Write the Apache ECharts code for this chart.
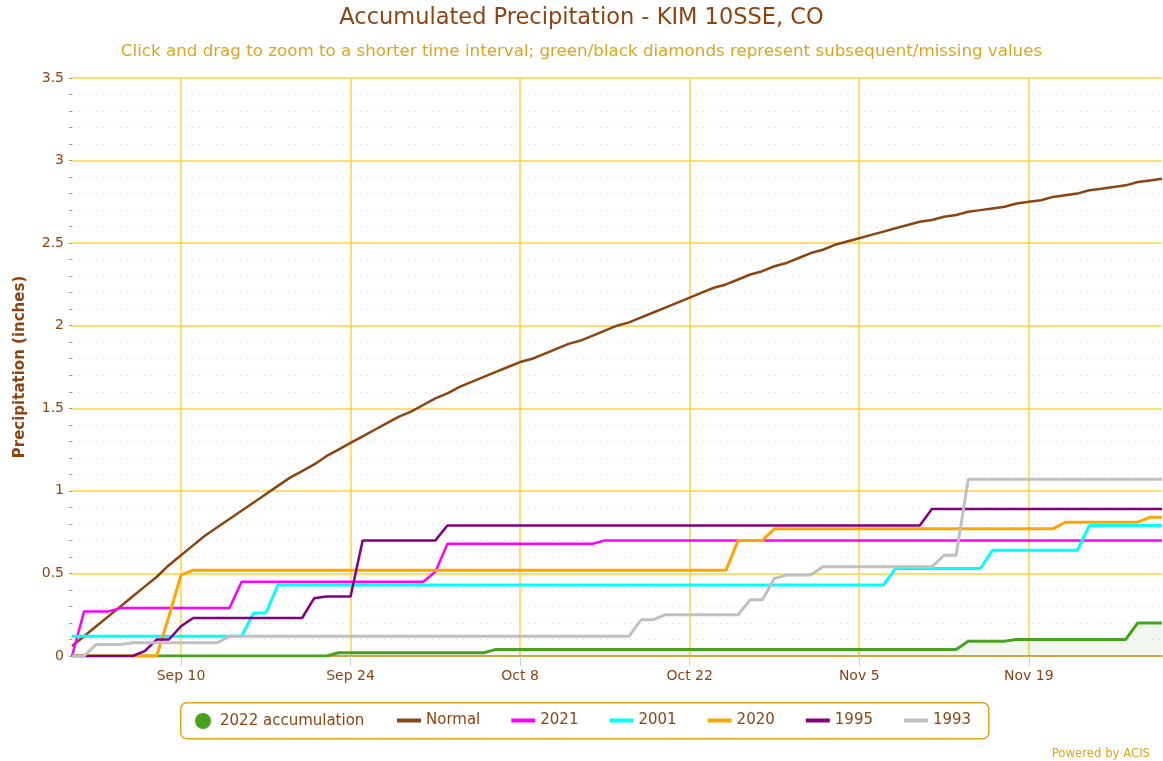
<!DOCTYPE html>
<html>
<head>
<meta charset="utf-8">
<title>Accumulated Precipitation - KIM 10SSE, CO</title>
<script src="https://cdn.jsdelivr.net/npm/echarts/dist/echarts.min.js"></script>
<style>
    html, body {
        margin: 0;
        padding: 0;
        background: #fff;
    }
    #chart {
        width: 1163px;
        height: 761px;
    }
</style>
</head>
<body>
<div id="chart"></div>
<script>
// days Sep 1 .. Nov 30
const months = [['Sep', 30], ['Oct', 31], ['Nov', 30]]
const tickLabels = ['Sep 10', 'Sep 24', 'Oct 8', 'Oct 22', 'Nov 5', 'Nov 19']

const normal = [
    0.06, 0.12, 0.18, 0.24, 0.30, 0.36, 0.42, 0.48, 0.55, 0.61,
    0.67, 0.73, 0.78, 0.83, 0.88, 0.93, 0.98, 1.03, 1.08, 1.12,
    1.16, 1.21, 1.25, 1.29, 1.33, 1.37, 1.41, 1.45, 1.48, 1.52,
    1.56, 1.59, 1.63, 1.66, 1.69, 1.72, 1.75, 1.78, 1.80, 1.83,
    1.86, 1.89, 1.91, 1.94, 1.97, 2.00, 2.02, 2.05, 2.08, 2.11,
    2.14, 2.17, 2.20, 2.23, 2.25, 2.28, 2.31, 2.33, 2.36, 2.38,
    2.41, 2.44, 2.46, 2.49, 2.51, 2.53, 2.55, 2.57, 2.59, 2.61,
    2.63, 2.64, 2.66, 2.67, 2.69, 2.70, 2.71, 2.72, 2.74, 2.75,
    2.76, 2.78, 2.79, 2.80, 2.82, 2.83, 2.84, 2.85, 2.87, 2.88,
    2.89
]

const y2022 = [
    0, 0, 0, 0, 0, 0, 0, 0, 0, 0,
    0, 0, 0, 0, 0, 0, 0, 0, 0, 0,
    0, 0, 0.02, 0.02, 0.02, 0.02, 0.02, 0.02, 0.02, 0.02,
    0.02, 0.02, 0.02, 0.02, 0.02, 0.04, 0.04, 0.04, 0.04, 0.04,
    0.04, 0.04, 0.04, 0.04, 0.04, 0.04, 0.04, 0.04, 0.04, 0.04,
    0.04, 0.04, 0.04, 0.04, 0.04, 0.04, 0.04, 0.04, 0.04, 0.04,
    0.04, 0.04, 0.04, 0.04, 0.04, 0.04, 0.04, 0.04, 0.04, 0.04,
    0.04, 0.04, 0.04, 0.04, 0.09, 0.09, 0.09, 0.09, 0.10, 0.10,
    0.10, 0.10, 0.10, 0.10, 0.10, 0.10, 0.10, 0.10, 0.20, 0.20,
    0.20
]

const y2021 = [
    0, 0.27, 0.27, 0.27, 0.29, 0.29, 0.29, 0.29, 0.29, 0.29,
    0.29, 0.29, 0.29, 0.29, 0.45, 0.45, 0.45, 0.45, 0.45, 0.45,
    0.45, 0.45, 0.45, 0.45, 0.45, 0.45, 0.45, 0.45, 0.45, 0.45,
    0.51, 0.68, 0.68, 0.68, 0.68, 0.68, 0.68, 0.68, 0.68, 0.68,
    0.68, 0.68, 0.68, 0.68, 0.70, 0.70, 0.70, 0.70, 0.70, 0.70,
    0.70, 0.70, 0.70, 0.70, 0.70, 0.70, 0.70, 0.70, 0.70, 0.70,
    0.70, 0.70, 0.70, 0.70, 0.70, 0.70, 0.70, 0.70, 0.70, 0.70,
    0.70, 0.70, 0.70, 0.70, 0.70, 0.70, 0.70, 0.70, 0.70, 0.70,
    0.70, 0.70, 0.70, 0.70, 0.70, 0.70, 0.70, 0.70, 0.70, 0.70,
    0.70
]

const y2001 = [
    0.12, 0.12, 0.12, 0.12, 0.12, 0.12, 0.12, 0.12, 0.12, 0.12,
    0.12, 0.12, 0.12, 0.12, 0.12, 0.26, 0.26, 0.43, 0.43, 0.43,
    0.43, 0.43, 0.43, 0.43, 0.43, 0.43, 0.43, 0.43, 0.43, 0.43,
    0.43, 0.43, 0.43, 0.43, 0.43, 0.43, 0.43, 0.43, 0.43, 0.43,
    0.43, 0.43, 0.43, 0.43, 0.43, 0.43, 0.43, 0.43, 0.43, 0.43,
    0.43, 0.43, 0.43, 0.43, 0.43, 0.43, 0.43, 0.43, 0.43, 0.43,
    0.43, 0.43, 0.43, 0.43, 0.43, 0.43, 0.43, 0.43, 0.53, 0.53,
    0.53, 0.53, 0.53, 0.53, 0.53, 0.53, 0.64, 0.64, 0.64, 0.64,
    0.64, 0.64, 0.64, 0.64, 0.79, 0.79, 0.79, 0.79, 0.79, 0.79,
    0.79
]

const y2020 = [
    0, 0, 0, 0, 0, 0, 0, 0, 0.24, 0.49,
    0.52, 0.52, 0.52, 0.52, 0.52, 0.52, 0.52, 0.52, 0.52, 0.52,
    0.52, 0.52, 0.52, 0.52, 0.52, 0.52, 0.52, 0.52, 0.52, 0.52,
    0.52, 0.52, 0.52, 0.52, 0.52, 0.52, 0.52, 0.52, 0.52, 0.52,
    0.52, 0.52, 0.52, 0.52, 0.52, 0.52, 0.52, 0.52, 0.52, 0.52,
    0.52, 0.52, 0.52, 0.52, 0.52, 0.70, 0.70, 0.70, 0.77, 0.77,
    0.77, 0.77, 0.77, 0.77, 0.77, 0.77, 0.77, 0.77, 0.77, 0.77,
    0.77, 0.77, 0.77, 0.77, 0.77, 0.77, 0.77, 0.77, 0.77, 0.77,
    0.77, 0.77, 0.81, 0.81, 0.81, 0.81, 0.81, 0.81, 0.81, 0.84,
    0.84
]

const y1995 = [
    0, 0, 0, 0, 0, 0, 0.03, 0.10, 0.10, 0.18,
    0.23, 0.23, 0.23, 0.23, 0.23, 0.23, 0.23, 0.23, 0.23, 0.23,
    0.35, 0.36, 0.36, 0.36, 0.70, 0.70, 0.70, 0.70, 0.70, 0.70,
    0.70, 0.79, 0.79, 0.79, 0.79, 0.79, 0.79, 0.79, 0.79, 0.79,
    0.79, 0.79, 0.79, 0.79, 0.79, 0.79, 0.79, 0.79, 0.79, 0.79,
    0.79, 0.79, 0.79, 0.79, 0.79, 0.79, 0.79, 0.79, 0.79, 0.79,
    0.79, 0.79, 0.79, 0.79, 0.79, 0.79, 0.79, 0.79, 0.79, 0.79,
    0.79, 0.89, 0.89, 0.89, 0.89, 0.89, 0.89, 0.89, 0.89, 0.89,
    0.89, 0.89, 0.89, 0.89, 0.89, 0.89, 0.89, 0.89, 0.89, 0.89,
    0.89
]

const y1993 = [
    0, 0, 0.07, 0.07, 0.07, 0.08, 0.08, 0.08, 0.08, 0.08,
    0.08, 0.08, 0.08, 0.12, 0.12, 0.12, 0.12, 0.12, 0.12, 0.12,
    0.12, 0.12, 0.12, 0.12, 0.12, 0.12, 0.12, 0.12, 0.12, 0.12,
    0.12, 0.12, 0.12, 0.12, 0.12, 0.12, 0.12, 0.12, 0.12, 0.12,
    0.12, 0.12, 0.12, 0.12, 0.12, 0.12, 0.12, 0.22, 0.22, 0.25,
    0.25, 0.25, 0.25, 0.25, 0.25, 0.25, 0.34, 0.34, 0.47, 0.49,
    0.49, 0.49, 0.54, 0.54, 0.54, 0.54, 0.54, 0.54, 0.54, 0.54,
    0.54, 0.54, 0.61, 0.61, 1.07, 1.07, 1.07, 1.07, 1.07, 1.07,
    1.07, 1.07, 1.07, 1.07, 1.07, 1.07, 1.07, 1.07, 1.07, 1.07,
    1.07
]

const brown = '#8B4513'
const gold = '#DAA520'
const gridGold = '#FFD23F'
const fontFamily = "'DejaVu Sans', Verdana, sans-serif"

let days = []
months.forEach(([m, n]) => {
    for (let d = 1; d <= n; d++) days.push(m + ' ' + d)
})
const isTick = (idx) => tickLabels.includes(days[idx])

function lineSeries(name, data, color, width, extra) {
    return Object.assign({
        name: name,
        type: 'line',
        data: data,
        symbol: 'none',
        showSymbol: false,
        color: color,
        lineStyle: { color: color, width: width },
        emphasis: { disabled: true }
    }, extra || {})
}

let myChart = echarts.init(document.getElementById('chart'))
let option = {
    animation: false,
    backgroundColor: '#fff',
    textStyle: { fontFamily: fontFamily },
    title: [
        {
            text: 'Accumulated Precipitation - KIM 10SSE, CO',
            left: 'center',
            top: 2,
            textStyle: { color: brown, fontSize: 22.5, fontWeight: 'normal', fontFamily: fontFamily }
        },
        {
            text: 'Click and drag to zoom to a shorter time interval; green/black diamonds represent subsequent/missing values',
            left: 'center',
            top: 38,
            textStyle: { color: gold, fontSize: 16.7, fontWeight: 'normal', fontFamily: fontFamily }
        },
        {
            text: 'Powered by ACIS',
            right: 8,
            top: 743,
            textStyle: { color: gold, fontSize: 11.7, fontWeight: 'normal', fontFamily: fontFamily }
        }
    ],
    legend: [
        {
            data: ['2022 accumulation'],
            left: 195,
            top: 713,
            padding: 0,
            icon: 'circle',
            itemWidth: 16,
            itemHeight: 16,
            selectedMode: false,
            textStyle: { color: brown, fontSize: 15, fontFamily: fontFamily, padding: [0, 0, 0, 4] }
        },
        {
            data: ['Normal', '2021', '2001', '2020', '1995', '1993'],
            left: 397,
            top: 713,
            padding: 0,
            icon: 'rect',
            itemWidth: 24,
            itemHeight: 4,
            itemGap: 31,
            selectedMode: false,
            textStyle: { color: brown, fontSize: 15, fontFamily: fontFamily }
        }
    ],
    graphic: [
        {
            type: 'rect',
            left: 180,
            top: 702,
            shape: { width: 808, height: 36, r: 6 },
            style: { fill: 'transparent', stroke: gold, lineWidth: 1.5 },
            z: -1
        }
    ],
    grid: {
        left: 72,
        right: 1,
        top: 78,
        bottom: 105,
        containLabel: false
    },
    xAxis: {
        type: 'category',
        boundaryGap: false,
        data: days,
        axisLine: { show: true, lineStyle: { color: '#D9A640', width: 2 } },
        axisTick: {
            show: true,
            interval: isTick,
            length: 10,
            lineStyle: { color: '#C0D0E0', width: 1 }
        },
        axisLabel: {
            interval: isTick,
            margin: 13,
            color: brown,
            fontSize: 14,
            fontFamily: fontFamily
        },
        splitLine: {
            show: true,
            interval: isTick,
            lineStyle: { color: gridGold, width: 1.5 }
        }
    },
    yAxis: {
        type: 'value',
        min: 0,
        max: 3.5,
        interval: 0.5,
        name: 'Precipitation (inches)',
        nameLocation: 'middle',
        nameGap: 44,
        nameTextStyle: { color: brown, fontSize: 15, fontWeight: 'bold', fontFamily: fontFamily },
        axisLine: { show: false },
        axisTick: { show: true, length: 3, lineStyle: { color: '#999' } },
        minorTick: { show: true, splitNumber: 5, length: 3, lineStyle: { color: '#999' } },
        axisLabel: {
            margin: 8,
            color: brown,
            fontSize: 14,
            fontFamily: fontFamily
        },
        splitLine: { show: true, lineStyle: { color: gridGold, width: 1.5 } },
        minorSplitLine: { show: true, lineStyle: { color: '#D8D8D8', type: [1, 5], width: 1 } }
    },
    series: [
        lineSeries('2022 accumulation', y2022, '#48A21F', 3, {
            areaStyle: { color: 'rgba(72,162,31,0.1)' }
        }),
        lineSeries('Normal', normal, brown, 2.5),
        lineSeries('2021', y2021, '#FF00FF', 2.5),
        lineSeries('2001', y2001, '#00FFFF', 3),
        lineSeries('2020', y2020, '#FFA500', 3),
        lineSeries('1995', y1995, '#800080', 2.5),
        lineSeries('1993', y1993, '#C0C0C0', 3)
    ]
}

option && myChart.setOption(option)
</script>
</body>
</html>
